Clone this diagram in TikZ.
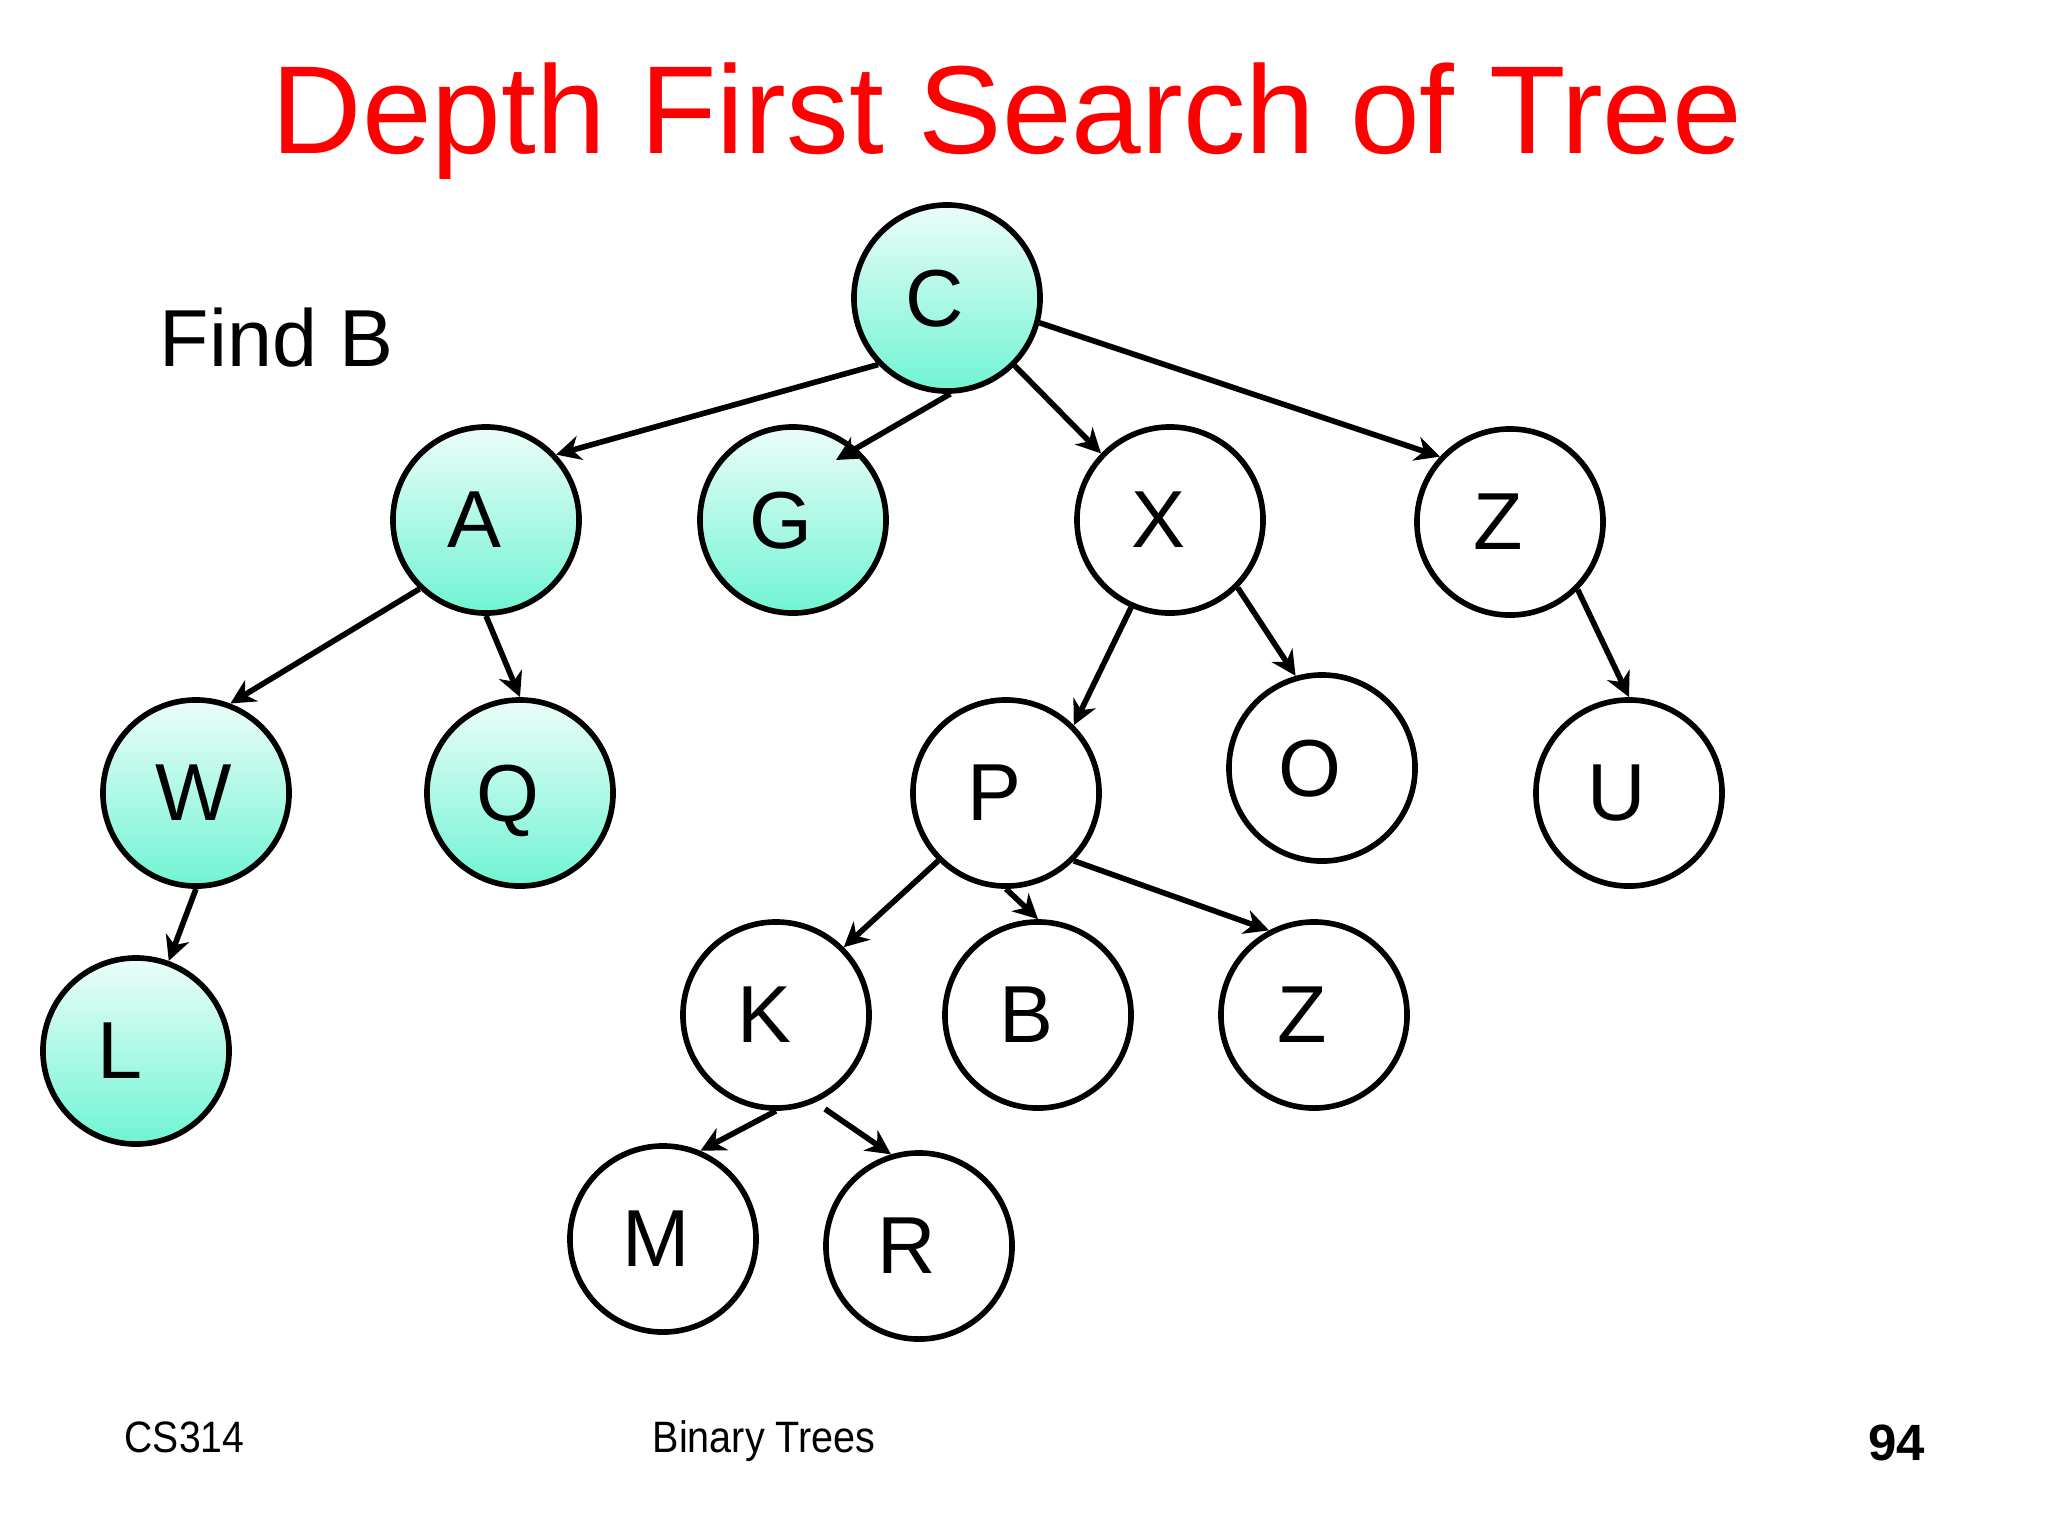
\documentclass[tikz,border=0pt]{standalone}
\usepackage{fontspec}
\setmainfont{Liberation Sans}
\usetikzlibrary{arrows.meta,calc}
\definecolor{topc}{RGB}{236,253,249}
\definecolor{botc}{RGB}{112,244,211}
\definecolor{titlered}{RGB}{255,0,0}
\begin{document}
\begin{tikzpicture}[x=0.01cm,y=-0.01cm,
  nd/.style={circle,draw=black,line width=1.6pt,minimum size=1.86cm,inner sep=0pt},
  visited/.style={nd,top color=topc,bottom color=botc},
  plain/.style={nd,fill=white},
  ltr/.style={font=\fontsize{23}{27}\selectfont,xshift=-0.12cm,text depth=0pt,inner sep=0pt},
  arr/.style={line width=1.6pt,-{Stealth[length=7pt,width=7pt,inset=2.2pt]}}]
\useasboundingbox (0,0) rectangle (2048,1536);
\node[anchor=base,text=titlered,font=\fontsize{35.6}{40}\selectfont] (title) at (1007,153) {Depth First Search of Tree};
\node[anchor=base west,inner sep=0pt,font=\fontsize{23}{27}\selectfont] (find) at (159,366) {Find B};
% nodes
\node[visited,label={[ltr]center:C}] (C) at (947,298) {};
\node[visited,label={[ltr]center:A}] (A) at (486,520) {};
\node[visited,label={[ltr]center:G}] (G) at (793,520) {};
\node[plain,label={[ltr]center:X}] (X) at (1170,520) {};
\node[plain,label={[ltr]center:Z}] (Z1) at (1510,522) {};
\node[visited,label={[ltr,xshift=0.1cm]center:W}] (W) at (196,793) {};
\node[visited,label={[ltr]center:Q}] (Q) at (520,793) {};
\node[plain,label={[ltr]center:P}] (P) at (1006,793) {};
\node[plain,label={[ltr]center:O}] (O) at (1322,768) {};
\node[plain,label={[ltr]center:U}] (U) at (1629,793) {};
\node[visited,label={[ltr,xshift=-0.04cm]center:L}] (L) at (136,1051) {};
\node[plain,label={[ltr]center:K}] (K) at (776,1015) {};
\node[plain,label={[ltr]center:B}] (B) at (1038,1015) {};
\node[plain,label={[ltr]center:Z}] (Z2) at (1314,1015) {};
\node[plain,label={[ltr,xshift=0.05cm]center:M}] (M) at (663,1239) {};
\node[plain,label={[ltr]center:R}] (R) at (919,1246) {};
\coordinate (gin) at ($(G.center)+(43,-60)$);
\coordinate (kout) at ($(K.center)+(49,94)$);
% edges
\draw[arr] (C.224) -- (A.43);
\draw[arr] (C.272) -- (gin);
\draw[arr] (C.-45) -- (X.136);
\draw[arr] (C.-15) -- (Z1.137);
\draw[arr] (A.-134) -- (W.69);
\draw[arr] (A.-90) -- (Q.90);
\draw[arr] (X.-114) -- (P.45);
\draw[arr] (X.-45) -- (O.106);
\draw[arr] (Z1.-45) -- (U.90);
\draw[arr] (W.-90) -- (L.70);
\draw[arr] (P.-135) -- (K.45);
\draw[arr] (P.-90) -- (B.90);
\draw[arr] (P.-45) -- (Z2.118);
\draw[arr] (K.-90) -- (M.67);
\draw[arr] (kout) -- (R.107);
% footer
\node[anchor=base west,inner sep=0pt,font=\fontsize{12.5}{15}\selectfont] (cs) at (124,1452) {\scalebox{0.89}[1]{CS314}};
\node[anchor=base west,inner sep=0pt,font=\fontsize{12.5}{15}\selectfont] (bt) at (652,1452) {\scalebox{0.9}[1]{Binary Trees}};
\node[anchor=base east,inner sep=0pt,font=\bfseries\fontsize{14.5}{17}\selectfont] (pg) at (1926,1460) {94};
\end{tikzpicture}
\end{document}
